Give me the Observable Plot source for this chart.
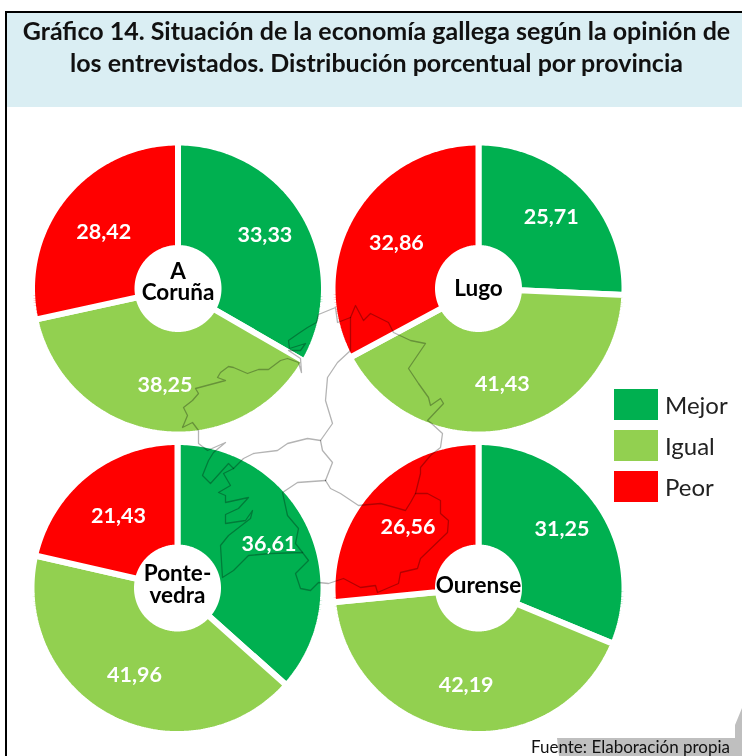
<!DOCTYPE html>
<html lang="es">
<head>
<meta charset="utf-8">
<script src="https://cdn.jsdelivr.net/npm/d3@7"></script>
<script src="https://cdn.jsdelivr.net/npm/@observablehq/plot@0.6"></script>
<style>
html,body{margin:0;padding:0;background:#fff;overflow:hidden}
#page{position:relative;width:742px;height:756px;overflow:hidden;font-family:Lato,"Open Sans",sans-serif}
#head{position:absolute;left:5px;top:11px;width:737px;height:96px;box-sizing:border-box;background:#DAEEF3;border-top:2.5px solid #000;border-left:2px solid #000;
  text-align:center;font-weight:700;font-size:25px;line-height:32px;color:#111;padding-top:1px;padding-left:4px;white-space:nowrap}
#frame{position:absolute;left:5px;top:107px;width:2px;height:649px;background:#000}
#chart{position:absolute;left:0;top:107px}
#chart svg{display:block}
#legend{position:absolute;left:614px;top:389px;color:#222;font-size:24px}
#legend div{display:flex;align-items:center;height:31px;margin-bottom:10px}
#legend i{display:block;width:44px;height:31px;margin-right:7px}
#patch{position:absolute;left:0;top:0;width:742px;height:756px;background:#bfbfbf;
  clip-path:polygon(557px 738px,735px 738px,735px 725px,742px 708px,742px 756px,559px 756px)}
#fuente{position:absolute;left:531px;top:737px;font-size:17px;line-height:19px;color:#111;white-space:nowrap}
</style>
</head>
<body>
<div id="page">
  <div id="patch"></div>
  <div id="head">Gráfico 14. Situación de la economía gallega según la opinión de<br>los entrevistados. Distribución porcentual por provincia</div>
  <div id="chart"></div>
  <div id="frame"></div>
  <div id="legend"></div>
  <div id="fuente">Fuente: Elaboración propia</div>
</div>
<script>
const categories = ["Mejor", "Igual", "Peor"];
const colors = ["#00B050", "#92D050", "#FF0000"];
const provinces = ["A\nCoruña", "Lugo", "Ponte-\nvedra", "Ourense"];
const mejor = [33.33, 25.71, 36.61, 31.25];
const igual = [38.25, 41.43, 41.96, 42.19];
const peor  = [28.42, 32.86, 21.43, 26.56];

// Faint outline of Galicia behind the doughnuts
const mapCoast = [[335,307],[318,314],[316,322],[307,327],[298,333],[288,340],[289,348],[305,343],[300,350],[288,350],[300,358],[301,372],[298,362],[287,358],[280,360],[268,369],[258,369],[247,373],[233,367],[228,366],[220,372],[217,377],[225,380],[210,384],[195,388],[198,393],[192,400],[183,407],[187,415],[182,427],[192,422],[198,430],[198,443],[207,450],[225,442],[213,452],[208,460],[202,475],[210,483],[228,463],[233,468],[223,473],[230,485],[218,492],[225,495],[225,502],[248,497],[238,508],[225,514],[225,523],[245,520],[252,510],[250,518],[228,535],[220,545],[222,577],[233,570],[248,555],[270,553],[302,552],[308,560],[295,573],[300,588],[310,590],[318,582],[328,583],[343,578],[360,587],[375,585],[377,592],[398,583],[400,572],[417,568],[420,558],[447,532],[448,520],[440,513],[440,500],[427,493],[415,493],[420,473],[420,467],[430,455],[440,447],[442,433],[430,422],[427,420],[443,403],[440,398],[430,405],[428,397],[418,383],[408,368],[425,343],[410,340],[393,332],[388,322],[370,313],[363,320],[355,305],[350,317],[337,322],[335,307]];
const mapBorderNorth = [[350,317],[350,350],[337,362],[327,377],[325,400],[332,423],[320,440],[322,450],[332,462],[325,480]];
const mapBorderWest = [[320,440],[307,438],[287,443],[277,450],[253,453],[243,458],[233,468]];
const mapBorderSouth = [[325,480],[297,482],[282,492],[287,515],[298,528],[295,543],[302,552]];
const mapBorderEast = [[325,480],[330,488],[340,493],[358,505],[380,503],[405,510],[410,502],[415,493]];
const mapLines = [mapCoast, mapBorderNorth, mapBorderWest, mapBorderSouth, mapBorderEast]
  .flatMap((line, id) => line.map(([x, y]) => ({id, x, y})));

const centres = [[177.5,288],[478,288],[177,587.5],[478,587.5]];
const series = [mejor, igual, peor];
const labelShift = [-4, 0, 5];
const nameShift = [-6, 1, -3, -2];
const gap = 6, rOuter = 143 + gap / 2, rInner = 43.5 - gap / 2, rLabel = 98;
const polar = (c, r, a) => ({x: c[0] + r * Math.sin(a), y: c[1] - r * Math.cos(a)});

const slicePoints = [], labels = [];
provinces.forEach((name, p) => {
  const total = d3.sum(series, s => s[p]);
  let start = 0;
  categories.forEach((cat, k) => {
    const end = start + series[k][p] / total * 2 * Math.PI;
    const steps = Math.ceil((end - start) * 60);
    const key = p + "-" + k;
    for (let i = 0; i <= steps; i++)
      slicePoints.push({key, cat, ...polar(centres[p], rOuter, start + (end - start) * i / steps)});
    for (let i = steps; i >= 0; i--)
      slicePoints.push({key, cat, ...polar(centres[p], rInner, start + (end - start) * i / steps)});
    slicePoints.push(slicePoints[slicePoints.length - 2 * steps - 2]);
    const at = polar(centres[p], rLabel, (start + end) / 2);
    labels.push({x: at.x, y: at.y + labelShift[k], text: series[k][p].toFixed(2).replace(".", ",")});
    start = end;
  });
});
const holes = provinces.map((name, p) => ({name, x: centres[p][0], y: centres[p][1] + nameShift[p]}));

const plot = Plot.plot({
  width: 742, height: 649, margin: 0,
  x: {domain: [0, 742], range: [0, 742], axis: null},
  y: {domain: [107, 756], range: [0, 649], axis: null},
  color: {domain: categories, range: colors},
  marks: [
    Plot.line(slicePoints, {x: "x", y: "y", z: "key", fill: "cat", stroke: "#fff", strokeWidth: gap, strokeLinejoin: "miter"}),
    Plot.line(mapLines, {x: "x", y: "y", z: "id", stroke: "#b4b4b4", strokeWidth: 1.3, mixBlendMode: "multiply"}),
    Plot.text(labels, {x: "x", y: "y", text: "text", dx: 2, fill: "#fff", fontSize: 21.5, fontWeight: 700, fontFamily: "Lato"}),
    Plot.text(holes, {x: "x", y: "y", text: "name", fill: "#000", fontSize: 22.5, fontWeight: 700, fontFamily: "Lato", lineHeight: 0.97})
  ]
});
document.getElementById("chart").append(plot);

const legend = document.getElementById("legend");
categories.forEach((c, i) => {
  const row = document.createElement("div");
  const sw = document.createElement("i");
  sw.style.background = colors[i];
  row.append(sw, c);
  legend.append(row);
});
</script>
</body>
</html>
